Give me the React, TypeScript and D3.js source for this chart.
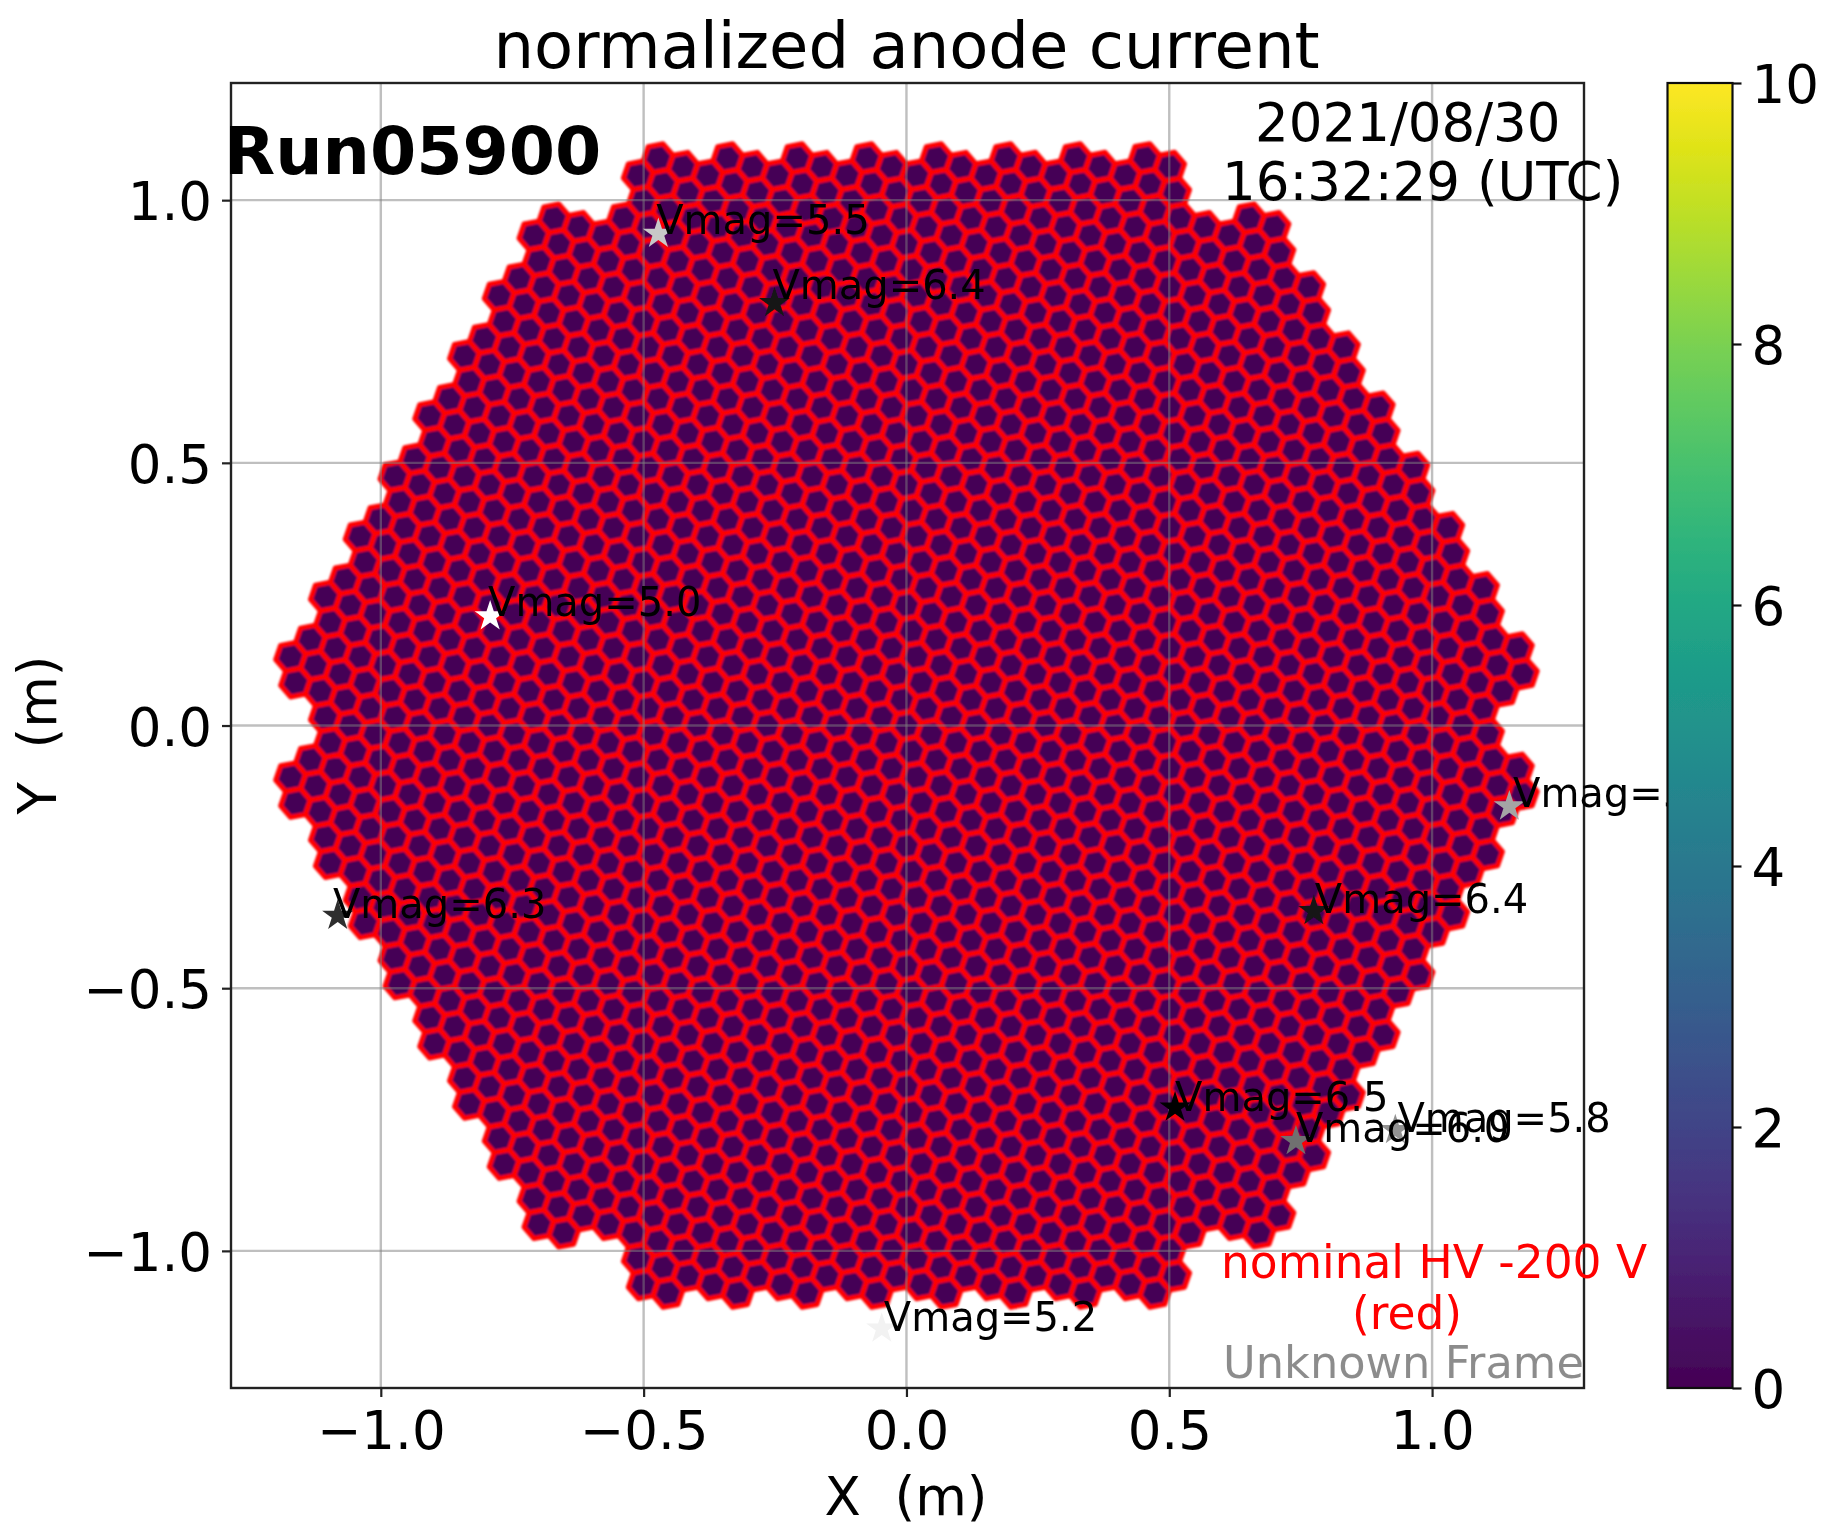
import React, { useEffect, useRef } from "react";
import * as d3 from "d3";

// camera layout: modules on a hexagonal lattice, one row per entry
const moduleRows = [-9, -8, -7, -6, -5, -4, -3, -2, -1, 0, 1, 2, 3, 4, 5, 6, 7, 8, 9];
const moduleRowFirst = [1, -1, -2, -3, -4, -5, -6, -7, -8, -8, -9, -9, -9, -9, -9, -9, -9, -9, -8];
const moduleRowLast = [8, 9, 9, 9, 9, 9, 9, 9, 9, 8, 8, 7, 6, 5, 4, 3, 2, 1, -1];

// every module holds a centre pixel and its six neighbours
const modulePixelsA = [0, 1, 0, -1, -1, 0, 1];
const modulePixelsB = [0, 0, 1, 1, 0, -1, -1];

const pixelPitch = 0.05; // m
const latticeAngle = -19.1; // deg
const anodeCurrent = 0.1; // every pixel reads the same colour in this frame

const starX = [-0.792, -0.472, -0.251, -1.082, 0.775, 1.147, 0.511, 0.741, 0.93, -0.047];
const starY = [0.208, 0.936, 0.804, -0.362, -0.353, -0.154, -0.727, -0.791, -0.77, -1.148];
const starLabelX = [-0.796, -0.476, -0.255, -1.091, 0.777, 1.154, 0.511, 0.741, 0.934, -0.043];
const starLabelY = [0.208, 0.936, 0.812, -0.366, -0.357, -0.156, -0.734, -0.793, -0.774, -1.152];
const starMag = [5.0, 5.5, 6.4, 6.3, 6.4, 5.7, 6.5, 6.0, 5.8, 5.2];

const xTicks = [-1.0, -0.5, 0.0, 0.5, 1.0];
const yTicks = [-1.0, -0.5, 0.0, 0.5, 1.0];
const cbarTicks = [0, 2, 4, 6, 8, 10];

const FONT = "'DejaVu Sans', sans-serif";

const App = () => {
  const svgRef = useRef<SVGSVGElement>(null);

  useEffect(() => {
    const width = 1826;
    const height = 1533;

    const svg = d3.select(svgRef.current);
    svg.selectAll("*").remove();

    const defs = svg.append("defs");
    // the reference is an upscaled raster, so it is a bit soft
    const addBlur = (id: string, amount: number) =>
      defs.append("filter")
        .attr("id", id)
        .attr("filterUnits", "userSpaceOnUse")
        .attr("x", 0).attr("y", 0).attr("width", width).attr("height", height)
        .append("feGaussianBlur")
        .attr("stdDeviation", amount);
    addBlur("softCells", 1.1);
    addBlur("softText", 0.4);

    const root = svg.append("g").attr("font-family", FONT);

    root.append("rect").attr("width", width).attr("height", height).attr("fill", "white");

    const x = d3.scaleLinear().domain([-1.285, 1.289]).range([231, 1584]);
    const y = d3.scaleLinear().domain([-1.261, 1.223]).range([1388, 83]);
    const cbar = d3.scaleLinear().domain([0, 10]).range([1388, 83]);
    const color = (v: number) => d3.interpolateViridis(v / 10);
    const starGray = d3.scaleLinear<string>()
      .domain([5.0, 5.2, 5.5, 6.0, 6.5])
      .range(["#ffffff", "#f2f2f2", "#c8c8c8", "#707070", "#000000"]);

    // lattice vectors of the pixels and of the modules
    const rad = (d: number) => (d * Math.PI) / 180;
    const a1 = [pixelPitch * Math.cos(rad(latticeAngle)), pixelPitch * Math.sin(rad(latticeAngle))];
    const a2 = [pixelPitch * Math.cos(rad(latticeAngle + 60)), pixelPitch * Math.sin(rad(latticeAngle + 60))];
    const m1 = [2 * a1[0] + a2[0], 2 * a1[1] + a2[1]];
    const m2 = [m1[0] / 2, (m1[0] * Math.sqrt(3)) / 2];

    const pixels: { cx: number; cy: number; value: number }[] = [];
    moduleRows.forEach((r, i) => {
      d3.range(moduleRowFirst[i], moduleRowLast[i] + 1).forEach((q) => {
        const mx = q * m1[0] + r * m2[0];
        const my = q * m1[1] + r * m2[1];
        modulePixelsA.forEach((a, k) => {
          const b = modulePixelsB[k];
          pixels.push({
            cx: mx + a * a1[0] + b * a2[0],
            cy: my + a * a1[1] + b * a2[1],
            value: anodeCurrent,
          });
        });
      });
    });

    const hexRadius = pixelPitch / Math.sqrt(3);
    const hexCorners = d3.range(6).map((i) => rad(latticeAngle + 30 + i * 60));
    const hexLine = d3.line<number[]>().x((d) => x(d[0])).y((d) => y(d[1]));
    const hexPath = (p: { cx: number; cy: number }) =>
      hexLine(hexCorners.map((t) => [p.cx + hexRadius * Math.cos(t), p.cy + hexRadius * Math.sin(t)])) + "Z";

    root.append("g")
      .attr("filter", "url(#softCells)")
      .selectAll("path")
      .data(pixels)
      .join("path")
      .attr("d", hexPath)
      .attr("fill", (d) => color(d.value))
      .attr("stroke", "#ff0000")
      .attr("stroke-width", 5)
      .attr("stroke-linejoin", "round");

    const top = root.append("g").attr("filter", "url(#softText)");

    // grid sits on top of the pixels
    const grid = top.append("g").attr("stroke", "#808080").attr("stroke-opacity", 0.5).attr("stroke-width", 2.4);
    grid.selectAll("line.v").data(xTicks).join("line").attr("class", "v")
      .attr("x1", (d) => x(d)).attr("x2", (d) => x(d))
      .attr("y1", y.range()[0]).attr("y2", y.range()[1]);
    grid.selectAll("line.h").data(yTicks).join("line").attr("class", "h")
      .attr("y1", (d) => y(d)).attr("y2", (d) => y(d))
      .attr("x1", x.range()[0]).attr("x2", x.range()[1]);

    // axes
    const xAxis = top.append("g")
      .attr("transform", `translate(0,${y.range()[0]})`)
      .call(d3.axisBottom(x).tickValues(xTicks).tickFormat(d3.format(".1f")).tickSize(9).tickPadding(14));
    const yAxis = top.append("g")
      .attr("transform", `translate(${x.range()[0]},0)`)
      .call(d3.axisLeft(y).tickValues(yTicks).tickFormat(d3.format(".1f")).tickSize(9).tickPadding(10));
    [xAxis, yAxis].forEach((ax) => {
      ax.select(".domain").remove();
      ax.attr("font-size", 53).attr("font-family", FONT);
      ax.selectAll("line").attr("stroke", "#222").attr("stroke-width", 2.2);
    });
    yAxis.selectAll("text").attr("dy", "0.37em");

    top.append("rect")
      .attr("x", x.range()[0]).attr("y", y.range()[1])
      .attr("width", x.range()[1] - x.range()[0]).attr("height", y.range()[0] - y.range()[1])
      .attr("fill", "none").attr("stroke", "#222").attr("stroke-width", 2.4);

    // stars and their labels
    const star = d3.symbol().type(d3.symbolStar).size(300);
    const stars = top.append("g");
    starMag.forEach((mag, i) => {
      stars.append("path")
        .attr("transform", `translate(${x(starX[i])},${y(starY[i])})`)
        .attr("d", star())
        .attr("fill", starGray(mag));
    });
    starMag.forEach((mag, i) => {
      stars.append("text")
        .attr("x", x(starLabelX[i]))
        .attr("y", y(starLabelY[i]))
        .attr("font-size", 40)
        .attr("fill", "black")
        .text(`Vmag=${mag.toFixed(1)}`);
    });

    // titles and notes
    const addText = (tx: number, ty: number, s: string, size: number, anchor = "start") =>
      top.append("text").attr("x", tx).attr("y", ty).attr("font-size", size)
        .attr("text-anchor", anchor).attr("fill", "black").text(s);

    addText(906.5, 68, "normalized anode current", 64, "middle");
    addText(906, 1515, "X  (m)", 53, "middle").style("white-space", "pre");
    addText(0, 0, "Y  (m)", 53, "middle")
      .style("white-space", "pre")
      .attr("transform", "translate(56,735) rotate(-90)");
    addText(224, 174, "Run05900", 66.5).attr("font-weight", "bold");
    addText(1255, 141, "2021/08/30", 53);
    addText(1222, 200, "16:32:29 (UTC)", 53);
    addText(1221, 1278, "nominal HV -200 V", 45.5).attr("fill", "#ff0000");
    addText(1352, 1329, "(red)", 45.5).attr("fill", "#ff0000");
    addText(1223, 1378, "Unknown Frame", 44.7).attr("fill", "#000").attr("fill-opacity", 0.45);

    // colorbar goes last, it covers the label that runs into it
    const grad = defs.append("linearGradient")
      .attr("id", "viridis").attr("x1", 0).attr("x2", 0).attr("y1", 1).attr("y2", 0);
    d3.range(0, 1.0001, 0.05).forEach((t) => {
      grad.append("stop").attr("offset", t).attr("stop-color", d3.interpolateViridis(t));
    });
    top.append("rect")
      .attr("x", 1667.5).attr("y", cbar.range()[1])
      .attr("width", 65).attr("height", cbar.range()[0] - cbar.range()[1])
      .attr("fill", "url(#viridis)").attr("stroke", "#111").attr("stroke-width", 2.2);
    const cAxis = top.append("g")
      .attr("transform", "translate(1732.5,0)")
      .call(d3.axisRight(cbar).tickValues(cbarTicks).tickFormat(d3.format("d")).tickSize(9).tickPadding(10));
    cAxis.select(".domain").remove();
    cAxis.attr("font-size", 53).attr("font-family", FONT);
    cAxis.selectAll("line").attr("stroke", "#111").attr("stroke-width", 2.2);
    cAxis.selectAll("text").attr("dy", "0.37em");
  }, []);

  return (
    <svg
      ref={svgRef}
      width={1826}
      height={1533}
      style={{ position: "absolute", left: 0, top: 0, display: "block" }}
    />
  );
};

export default App;
